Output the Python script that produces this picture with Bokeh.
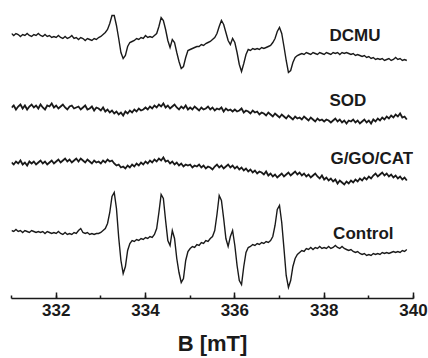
from bokeh.plotting import figure
from bokeh.models import Range1d, SingleIntervalTicker, ColumnDataSource
from bokeh.core.properties import value
from bokeh.embed import file_html
from bokeh.resources import INLINE
import numpy as np

# Magnetic field sweep (mT), 0.05 mT steps from 331.00 to 339.85
B = np.round(331.0 + 0.05 * np.arange(178), 2)

# Spectra (arbitrary units), same field points as B
dcmu = [4, 2, 4, 3, 1, 3, 2, 4, 2, 1,
        3, 2, 4, 2, 1, 3, 1, 2, 0, 1,
        0, 2, 0, -1, 1, -1, 0, 2, -1, 0,
        -2, 0, -1, -3, -1, -2, -3, -1, -2, 0,
        1, 3, 5, 8, 14, 22, 22, 12, -1, -15,
        -21, -18, -9, -5, -4, -3, -1, -2, 0, -1,
        2, 0, 1, 0, 2, 4, 11, 20, 17, 8,
        -3, -10, -2, -5, -15, -24, -31, -29, -20, -13,
        -12, -11, -10, -9, -9, -7, -8, -6, -5, -4,
        -2, 0, 4, 11, 17, 13, 5, -3, -7, -1,
        -5, -15, -27, -34, -26, -17, -12, -13, -11, -12,
        -11, -12, -10, -11, -10, -9, -8, -5, -1, 6,
        10, 4, -9, -23, -35, -33, -25, -20, -18, -17,
        -16, -17, -15, -16, -17, -15, -16, -17, -15, -16,
        -17, -15, -16, -17, -15, -16, -15, -17, -15, -16,
        -15, -16, -17, -16, -18, -17, -18, -19, -18, -20,
        -19, -21, -20, -22, -21, -22, -21, -23, -22, -21,
        -23, -22, -20, -22, -21, -23, -22, -23]

sod = [1, 3, -1, 2, 4, 0, 3, -1, 2, 4,
       1, 3, 0, 4, 1, -1, 3, 2, 5, 1,
       3, 0, 2, 4, 1, -1, 2, 3, 0, 1,
       2, -1, 1, 3, -1, 0, 2, -2, 1, 0,
       -2, 1, -3, -1, -4, -2, -5, -3, -6, -4,
       -7, -3, -5, -2, -4, -1, -3, 0, -2, -1,
       1, -1, 2, 0, 3, 1, 4, 2, 5, 1,
       3, 0, 2, 4, 1, -1, 2, 0, 3, -1,
       1, -1, 2, 0, -2, 1, -1, 0, 2, -1,
       1, -2, 0, -1, 1, -3, 0, -2, -1, -3,
       -1, -3, -2, 0, -4, -2, -3, -5, -2, -4,
       -3, -6, -4, -5, -7, -4, -6, -8, -5, -7,
       -9, -6, -8, -10, -7, -9, -11, -8, -10, -9,
       -11, -8, -10, -12, -9, -11, -13, -10, -12, -11,
       -13, -11, -12, -14, -12, -10, -13, -11, -14, -12,
       -15, -12, -13, -11, -14, -12, -15, -13, -11, -14,
       -12, -15, -11, -13, -10, -12, -9, -11, -8, -10,
       -7, -9, -6, -8, -5, -9, -8, -11]

ggocat = [1, -1, 2, 0, 3, -1, 1, -2, 2, 0,
          2, -1, 1, 3, 0, 2, -1, 1, 3, 0,
          2, 4, 1, 3, 5, 2, 4, 1, 3, 5,
          2, 5, 3, 1, 4, 2, 0, 3, 1, 2,
          0, 3, 1, 4, 2, 3, 0, -2, -1, -4,
          -3, -5, -2, -4, -1, -3, 0, -2, 1, -1,
          2, 0, 3, 1, 4, 2, 5, 3, 6, 2,
          3, 0, 2, -1, 1, -2, 0, -3, -1, -2,
          -1, -4, -2, -3, -1, -4, -2, -5, -3, -4,
          -6, -3, -1, -4, -2, -5, -3, -1, -4, -2,
          -5, -3, -6, -4, -7, -5, -8, -6, -9, -7,
          -10, -8, -9, -11, -8, -12, -10, -13, -11, -14,
          -12, -10, -13, -11, -9, -12, -10, -8, -11, -9,
          -12, -10, -13, -11, -14, -12, -10, -13, -15, -12,
          -16, -14, -17, -15, -18, -16, -20, -17, -19, -21,
          -18, -20, -17, -19, -16, -18, -15, -17, -14, -16,
          -13, -15, -12, -10, -13, -11, -9, -12, -10, -13,
          -11, -14, -12, -15, -13, -16, -14, -17]

control = [2, 1, 3, 1, 2, 0, 2, 1, 0, 2,
           1, 0, 1, 0, 1, -1, 1, 0, -1, 0,
           -1, 1, -1, -2, 0, -2, -1, -2, 0, -1,
           2, 4, 0, -1, 0, -2, -1, -2, -1, -1,
           0, 2, 4, 9, 20, 36, 40, 24, -5, -28,
           -41, -34, -18, -11, -8, -9, -7, -8, -6, -7,
           -5, -6, -4, -5, -2, 4, 20, 38, 34, 12,
           -8, -13, 2, -6, -26, -40, -50, -46, -28, -19,
           -16, -14, -15, -12, -13, -10, -11, -8, -9, -6,
           -4, 2, 18, 37, 32, 14, -6, -14, -4, 2,
           -13, -33, -48, -52, -34, -20, -15, -14, -12, -13,
           -11, -12, -10, -11, -9, -10, -8, -4, 7, 23,
           27, 10, -16, -43, -55, -48, -34, -26, -22, -20,
           -18, -19, -16, -17, -15, -17, -15, -16, -14, -16,
           -15, -16, -14, -16, -15, -13, -15, -16, -14, -16,
           -17, -18, -17, -19, -20, -19, -21, -22, -21, -23,
           -22, -23, -21, -22, -21, -22, -20, -21, -20, -21,
           -20, -19, -20, -19, -20, -18, -19, -17]

names = ["DCMU", "SOD", "G/GO/CAT", "Control"]
spectra = [dcmu, sod, ggocat, control]
offsets = [261, 190, 135, 66]
widths = [1.4, 1.8, 1.8, 1.4]
label_x = [338.12, 338.12, 338.14, 338.2]
label_y = [263.5, 198, 140.5, 65.5]

TXT = "#1a1a1a"
FONT = "Liberation Sans"

p = figure(width=428, height=358, output_backend="svg", toolbar_location=None,
           x_range=Range1d(331, 340), y_range=Range1d(0, 298),
           y_axis_location=None, min_border_left=11, min_border_right=15,
           min_border_top=0, min_border_bottom=60)
p.outline_line_color = None
p.xgrid.visible = False
p.ygrid.visible = False
p.background_fill_color = "white"
p.border_fill_color = "white"

for name, spec, off, w in zip(names, spectra, offsets, widths):
    y = np.array(spec, dtype=float) + off
    p.line(B, y, line_color=TXT, line_width=w, line_join="miter")

src = ColumnDataSource(dict(x=label_x, y=label_y, t=names))
p.text(x="x", y="y", text="t", source=src, text_font=value(FONT),
       text_font_size="17px", text_font_style="bold", text_color=TXT,
       text_align="left", text_baseline="middle")

ax = p.xaxis[0]
ax.ticker = SingleIntervalTicker(interval=2, num_minor_ticks=2)
ax.axis_line_color = TXT
ax.axis_line_width = 1.5
ax.major_tick_line_color = TXT
ax.major_tick_line_width = 1.5
ax.minor_tick_line_color = TXT
ax.minor_tick_line_width = 1.5
ax.major_tick_in = 6
ax.major_tick_out = 0
ax.minor_tick_in = 3
ax.minor_tick_out = 0
ax.major_label_text_font = FONT
ax.major_label_text_font_size = "17px"
ax.major_label_text_font_style = "bold"
ax.major_label_text_color = TXT
ax.major_label_standoff = 5
ax.axis_label = "B [mT]"
ax.axis_label_text_font = FONT
ax.axis_label_text_font_size = "22px"
ax.axis_label_text_font_style = "bold"
ax.axis_label_text_color = TXT
ax.axis_label_standoff = 12

open("out.html", "w").write(file_html(p, INLINE))
